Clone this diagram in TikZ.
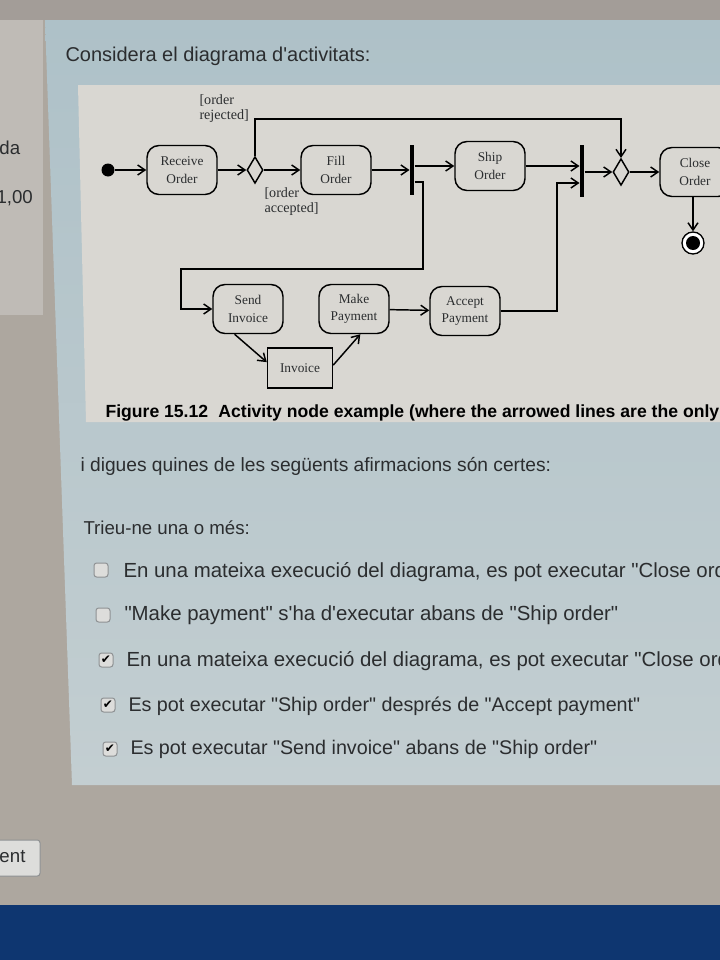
\documentclass[tikz,border=0pt]{standalone}
\usepackage{fontspec}
\newfontfamily\uisans{Liberation Sans}
\newfontfamily\figserif{Liberation Serif}
\newfontfamily\symsans{DejaVu Sans}
\usetikzlibrary{arrows.meta,shapes.geometric}

\definecolor{deskgrey}{HTML}{ADA79F}
\definecolor{topgrey}{HTML}{A39D98}
\definecolor{sidegrey}{HTML}{BFBBB6}
\definecolor{paneltop}{HTML}{AEC1C8}
\definecolor{panelbot}{HTML}{C3CED1}
\definecolor{figgrey}{HTML}{D9D7D2}
\definecolor{screenblue}{HTML}{0E3670}
\definecolor{inkgrey}{HTML}{2B2D2F}
\definecolor{boxedge}{HTML}{8E9193}
\definecolor{boxfill}{HTML}{DDDDDB}

\tikzset{every picture/.style={line width=0.75pt}}
\tikzset{
  activity/.style={draw, rounded corners=9pt, line width=1.1pt, minimum width=52.5pt, minimum height=36.75pt, align=center, inner sep=0pt, text=inkgrey, font=\figserif\fontsize{10}{13}\selectfont},
  decision/.style={draw, diamond, line width=1.1pt, minimum width=12pt, minimum height=20pt, inner sep=0pt},
  syncbar/.style={fill=black, minimum width=3pt, minimum height=37.5pt, inner sep=0pt},
  objbox/.style={draw, line width=1.1pt, minimum width=48.75pt, minimum height=30pt, inner sep=0pt, text=inkgrey, font=\figserif\fontsize{10}{13}\selectfont},
  flow/.style={line width=1.1pt, -{Straight Barb[length=5.5pt,width=7.5pt]}},
  guard/.style={anchor=north west, align=left, inner sep=0pt, text=inkgrey, font=\figserif\fontsize{10.6}{11.5}\selectfont},
  uitext/.style={anchor=west, inner sep=0pt, text=inkgrey, font=\uisans\fontsize{14.8}{17}\selectfont},
  tickbox/.style={draw=boxedge, fill=boxfill, rounded corners=2pt, minimum size=10.5pt, inner sep=0pt},
}

\begin{document}
\begin{tikzpicture}[x=0.75pt,y=0.75pt,yscale=-1,xscale=1]
\clip (0,0) rectangle (720,960);

%Shape: Rectangle [id:desk] 
\fill [deskgrey] (0,0) rectangle (720,960);
\fill [topgrey] (0,0) rectangle (720,20);
\fill [sidegrey] (0,20) rectangle (43,315);
%Shape: Polygon [id:panel] 
\shade [top color=paneltop, bottom color=panelbot] (45,20) -- (720,20) -- (720,785) -- (72,785) -- cycle;
%Shape: Polygon [id:figure] 
\fill [figgrey] (78,85) -- (720,85) -- (720,422) -- (86,422) -- cycle;
%Shape: Rectangle [id:screen] 
\fill [screenblue] (0,905) rectangle (720,960);
%Shape: Rectangle [id:button] 
\draw [draw=boxedge, fill=boxfill, rounded corners=2pt] (-10,840) rectangle (40,876);

% Activity nodes
\node [circle, fill=black, minimum size=9.75pt, inner sep=0pt] (start) at (108,170) {};
\node [activity] (recv) at (182,170) {Receive\\Order};
\node [decision] (dec1) at (255,170) {};
\node [activity] (fill) at (336,170) {Fill\\Order};
\node [syncbar] (fork) at (412,170) {};
\node [activity] (ship) at (490,166) {Ship\\Order};
\node [syncbar, minimum height=39pt] (join) at (582,171) {};
\node [decision] (dec2) at (621,172) {};
\node [activity] (close) at (695,172) {Close\\Order};
\node [circle, draw, line width=1pt, fill=white, minimum size=16.5pt, inner sep=0pt] (final) at (693,243) {};
\node [circle, fill=black, minimum size=10.5pt, inner sep=0pt] at (final) {};
\node [activity] (send) at (248,309) {Send\\Invoice};
\node [activity] (make) at (354,309) {Make\\Payment};
\node [activity] (accept) at (465,311) {Accept\\Payment};
\node [objbox] (inv) at (300,368) {Invoice};

% Guards
\node [guard] at (199,94) {[order\\rejected]};
\node [guard] at (264,187) {[order\\accepted]};

% Connectors
\coordinate (rejtop) at (621,119);
\coordinate (fkout) at (412,182);
\coordinate (lowr) at (423,269);
\coordinate (lowl) at (181,269);
\coordinate (jlow) at (557,183);
\draw [flow] (start) -- (recv);
\draw [flow] (recv) -- (dec1);
\draw [flow] (dec1) -- (fill);
\draw [flow] (dec1.north) |- (rejtop) -- (dec2.north);
\draw [flow] (fill) -- (fill -| fork.west);
\draw [flow] (fork.east |- ship) -- (ship);
\draw [flow] (fork.east |- fkout) -| (lowr) -| (lowl) |- (send);
\draw [flow] (ship) -- (ship -| join.west);
\draw [flow] (send.-118) -- (inv.170);
\draw [flow] (inv.5) -- (make.-76);
\draw [flow] (make) -- (accept);
\draw [flow] (accept) -| (jlow) -- (join.west |- jlow);
\draw [flow] (join.east |- dec2) -- (dec2);
\draw [flow] (dec2) -- (close);
\draw [flow] (close.south -| final) -- (final);

% Text Node
\node [uitext, font=\uisans\fontsize{15}{18}\selectfont] (title) at (65,56) {Considera el diagrama d'activitats:};
% Text Node
\node [uitext, font=\uisans\bfseries\fontsize{13.2}{15}\selectfont, text=black] (caption) at (105,413) {Figure 15.12\hspace{4pt} Activity node example (where the arrowed lines are the only};
% Text Node
\node [uitext, font=\uisans\fontsize{14.4}{17}\selectfont] (ask) at (80,466) {i digues quines de les següents afirmacions són certes:};
% Text Node
\node [uitext, font=\uisans\fontsize{14}{17}\selectfont] (pick) at (83,528) {Trieu-ne una o més:};
% Text Node
\node [uitext, font=\uisans\fontsize{14}{17}\selectfont] (side1) at (-1,148) {da};
\node [uitext, font=\uisans\fontsize{14}{17}\selectfont] (side2) at (-4,198) {1,00};
\node [uitext, font=\uisans\fontsize{14}{17}\selectfont] (btn) at (-1,857) {ent};

% Options
\node [tickbox] (cb1) at (101,570) {};
\node [uitext, font=\uisans\fontsize{15.3}{17}\selectfont] (opt1) at (123,572) {En una mateixa execució del diagrama, es pot executar "Close ord};
\node [tickbox] (cb2) at (103,615) {};
\node [uitext, font=\uisans\fontsize{15.3}{17}\selectfont] (opt2) at (124,615) {"Make payment" s'ha d'executar abans de "Ship order"};
\node [tickbox] (cb3) at (106,660) {};
\node [font=\symsans\fontsize{9}{9}\selectfont, inner sep=0pt] at (cb3) {✔};
\node [uitext, font=\uisans\fontsize{15.3}{17}\selectfont] (opt3) at (126,661) {En una mateixa execució del diagrama, es pot executar "Close ord};
\node [tickbox] (cb4) at (108,705) {};
\node [font=\symsans\fontsize{9}{9}\selectfont, inner sep=0pt] at (cb4) {✔};
\node [uitext] (opt4) at (128,706) {Es pot executar "Ship order" després de "Accept payment"};
\node [tickbox] (cb5) at (110,749) {};
\node [font=\symsans\fontsize{9}{9}\selectfont, inner sep=0pt] at (cb5) {✔};
\node [uitext] (opt5) at (130,749) {Es pot executar "Send invoice" abans de "Ship order"};

\end{tikzpicture}
\end{document}
